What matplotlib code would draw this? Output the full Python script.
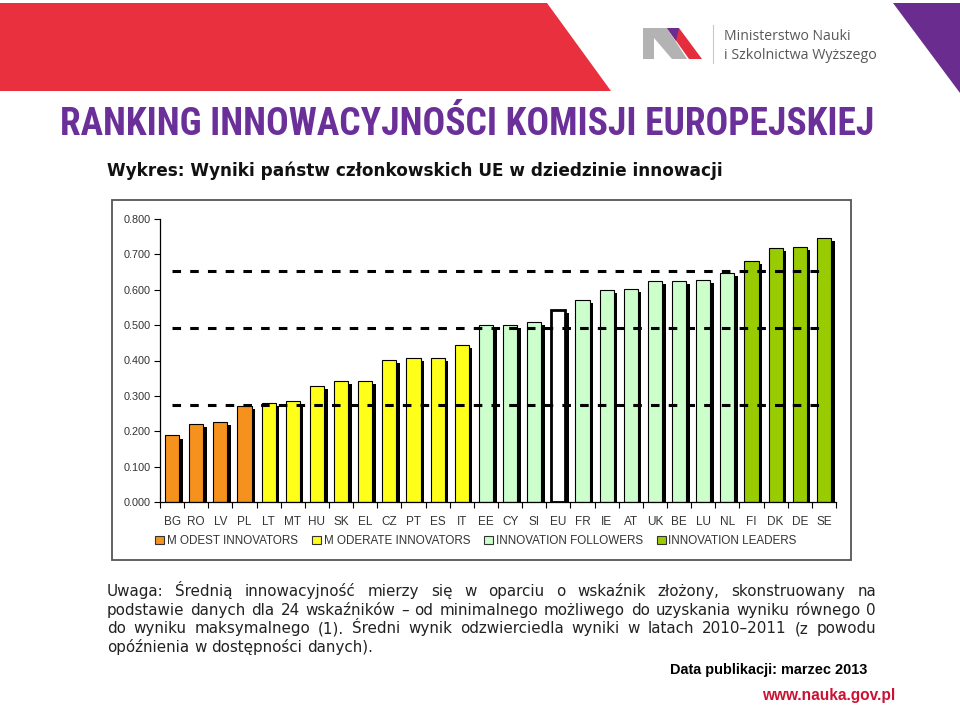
import numpy as np
import matplotlib
matplotlib.use("Agg")
import matplotlib.pyplot as plt
from matplotlib.patches import Polygon, Rectangle, Patch
from matplotlib import font_manager
from matplotlib.font_manager import FontProperties

# --- dane ---
countries = ['BG', 'RO', 'LV', 'PL', 'LT', 'MT', 'HU', 'SK', 'EL', 'CZ', 'PT', 'ES', 'IT',
             'EE', 'CY', 'SI', 'EU', 'FR', 'IE', 'AT', 'UK', 'BE', 'LU', 'NL',
             'FI', 'DK', 'DE', 'SE']
scores = [0.188, 0.221, 0.225, 0.270, 0.281, 0.285, 0.327, 0.341, 0.341, 0.402, 0.406, 0.406, 0.443,
          0.500, 0.501, 0.508, 0.544, 0.571, 0.600, 0.602, 0.624, 0.624, 0.628, 0.648,
          0.682, 0.718, 0.720, 0.747]
groups = ['modest'] * 4 + ['moderate'] * 9 + ['follower'] * 11 + ['leader'] * 4
thresholds = [0.273, 0.491, 0.654]
yticks = [0.0, 0.1, 0.2, 0.3, 0.4, 0.5, 0.6, 0.7, 0.8]
legend_labels = ['M ODEST INNOVATORS', 'M ODERATE INNOVATORS', 'INNOVATION FOLLOWERS', 'INNOVATION LEADERS']

group_colors = {'modest': '#F5921E', 'moderate': '#FFFF1A', 'follower': '#CCFFCC', 'leader': '#99CC00'}

title = 'RANKING INNOWACYJNOŚCI KOMISJI EUROPEJSKIEJ'
subtitle = 'Wykres: Wyniki państw członkowskich UE w dziedzinie innowacji'
note_lines = [
    'Uwaga: Średnią innowacyjność mierzy się w oparciu o wskaźnik złożony, skonstruowany na',
    'podstawie danych dla 24 wskaźników – od minimalnego możliwego do uzyskania wyniku równego 0',
    'do wyniku maksymalnego (1). Średni wynik odzwierciedla wyniki w latach 2010–2011 (z powodu',
    'opóźnienia w dostępności danych).',
]

W, H = 960, 705
fig = plt.figure(figsize=(W / 100, H / 100), dpi=100)
fig.patch.set_facecolor('white')

# tło w pikselach
bg = fig.add_axes([0, 0, 1, 1])
bg.set_xlim(0, W)
bg.set_ylim(H, 0)
bg.axis('off')

renderer = fig.canvas.get_renderer()

# szukamy wąskiej, pogrubionej czcionki do tytułu (jak Arial Narrow)
title_font = FontProperties(family='Liberation Sans', weight='bold')
for f in font_manager.fontManager.ttflist:
    fn = f.fname.lower()
    if ('narrow' in fn or 'condensed' in fn) and 'bold' in fn and 'oblique' not in fn \
            and 'italic' not in fn and ('liberation' in fn or 'roboto' in fn or 'dejavu' in fn):
        title_font = FontProperties(fname=f.fname)
        if 'liberation' in fn:
            break


def fit_text(x0, x1, y, s, size, max_size=None, **kw):
    t = bg.text(x0, y, s, fontsize=size, **kw)
    w = t.get_window_extent(renderer).width
    new = size * (x1 - x0) / w
    if max_size is not None and new > max_size:
        new = max_size
        t.set_x((x0 + x1) / 2)
        t.set_ha('center')
    t.set_fontsize(new)
    return t


# nagłówek
bg.add_patch(Polygon([(0, 3), (547, 3), (611, 91), (0, 91)], closed=True, color='#E8303F', lw=0))
bg.add_patch(Polygon([(893, 3), (960, 3), (960, 93)], closed=True, color='#6A2C8E', lw=0))

# logo
bg.add_patch(Polygon([(643, 59), (643, 28), (667, 28), (687, 59), (672, 59), (654, 38), (654, 59)],
                     closed=True, color='#B3B3B3', lw=0))
bg.add_patch(Polygon([(667, 28), (679, 28), (702, 59), (689, 59)], closed=True, color='#E52E3D', lw=0))
bg.add_patch(Polygon([(667, 28), (679, 28), (676, 41)], closed=True, color='#6A2C8E', lw=0))
bg.plot([713, 713], [25, 63], color='#C8C8C8', lw=0.8)
fit_text(724, 850, 40, 'Ministerstwo Nauki', 10, family='Open Sans', color='#58585A', va='baseline')
fit_text(724, 877, 59, 'i Szkolnictwa Wyższego', 10, family='Open Sans', color='#58585A', va='baseline')

# tytuł
fit_text(45, 890, 135, title, 26, max_size=27, fontproperties=title_font,
         color='#6B2F9A', va='baseline')
fit_text(107, 722, 176, subtitle, 11, family='DejaVu Sans', weight='bold',
         color='#111111', va='baseline')

# ramka wykresu
bg.add_patch(Rectangle((112, 200), 739, 360, fill=False, edgecolor='#555555', lw=1.3))

# --- wykres słupkowy ---
ax = fig.add_axes([160 / W, 1 - 502 / H, (836 - 160) / W, (502 - 219) / H])
ax.set_facecolor('none')
x = np.arange(len(countries))
vals = np.array(scores)
bw = 0.58
dx = 0.15
dy = 0.0085

ax.bar(x + dx, vals - dy, width=bw, color='black', lw=0, zorder=1)
faces = [('white' if c == 'EU' else group_colors[g]) for c, g in zip(countries, groups)]
lws = [2.0 if c == 'EU' else 0.8 for c in countries]
ax.bar(x, vals, width=bw, color=faces, edgecolor='black', linewidth=lws, zorder=2)

for t in thresholds:
    ax.plot([x[0], x[-1]], [t, t], color='black', lw=2.2, dashes=(2.8, 3.0), zorder=3)

ax.set_xlim(-0.5, len(countries) - 0.5)
ax.set_ylim(0, 0.8)
ax.set_yticks(yticks)
ax.set_yticklabels([f'{v:.3f}' for v in yticks], fontsize=7.8, family='Liberation Sans', color='#333333')
ax.set_xticks(x)
ax.set_xticklabels(countries, fontsize=8.5, family='Liberation Sans', color='#333333')
ax.set_xticks(np.arange(len(countries) + 1) - 0.5, minor=True)
ax.tick_params(axis='x', which='major', length=0, pad=10)
ax.tick_params(axis='x', which='minor', length=4, width=0.8, direction='out')
ax.tick_params(axis='y', length=4, width=0.8, direction='out', pad=3)
for s in ['top', 'right']:
    ax.spines[s].set_visible(False)
ax.spines['left'].set_linewidth(0.9)
ax.spines['bottom'].set_linewidth(0.9)

handles = [Patch(facecolor=group_colors[g], edgecolor='#333333', lw=0.8)
           for g in ['modest', 'moderate', 'follower', 'leader']]
ax.legend(handles, legend_labels, loc='center', bbox_to_anchor=(476 / W, 1 - 541 / H),
          bbox_transform=fig.transFigure, ncol=4, frameon=False,
          prop={'family': 'Liberation Sans', 'size': 8.4},
          handlelength=0.75, handleheight=0.75, handletextpad=0.25, columnspacing=1.2,
          labelcolor='#333333')

# --- uwaga (wyjustowana) ---
x0, x1 = 107, 876


def natural_width(line, size):
    t = bg.text(0, 0, line, fontsize=size, family='DejaVu Sans')
    w = t.get_window_extent(renderer).width
    t.remove()
    return w


size = 10 * (x1 - x0) * 0.985 / max(natural_width(l, 10) for l in note_lines[:-1])
space = natural_width('a a', size) - natural_width('aa', size)
for i, line in enumerate(note_lines):
    y = 596 + i * 18.7
    words = line.split()
    texts = [bg.text(0, y, w, fontsize=size, family='DejaVu Sans', color='#222222', va='baseline')
             for w in words]
    widths = [t.get_window_extent(renderer).width for t in texts]
    if i < len(note_lines) - 1:
        gap = (x1 - x0 - sum(widths)) / (len(words) - 1)
    else:
        gap = space
    xx = x0
    for t, w in zip(texts, widths):
        t.set_x(xx)
        xx += w + gap

fit_text(670, 868, 674, 'Data publikacji: marzec 2013', 10, family='Liberation Sans',
         weight='bold', color='black', va='baseline')
fit_text(762, 896, 700, 'www.nauka.gov.pl', 10, family='Liberation Sans',
         weight='bold', color='#CC1133', va='baseline')

fig.savefig('out.png', dpi=100)
